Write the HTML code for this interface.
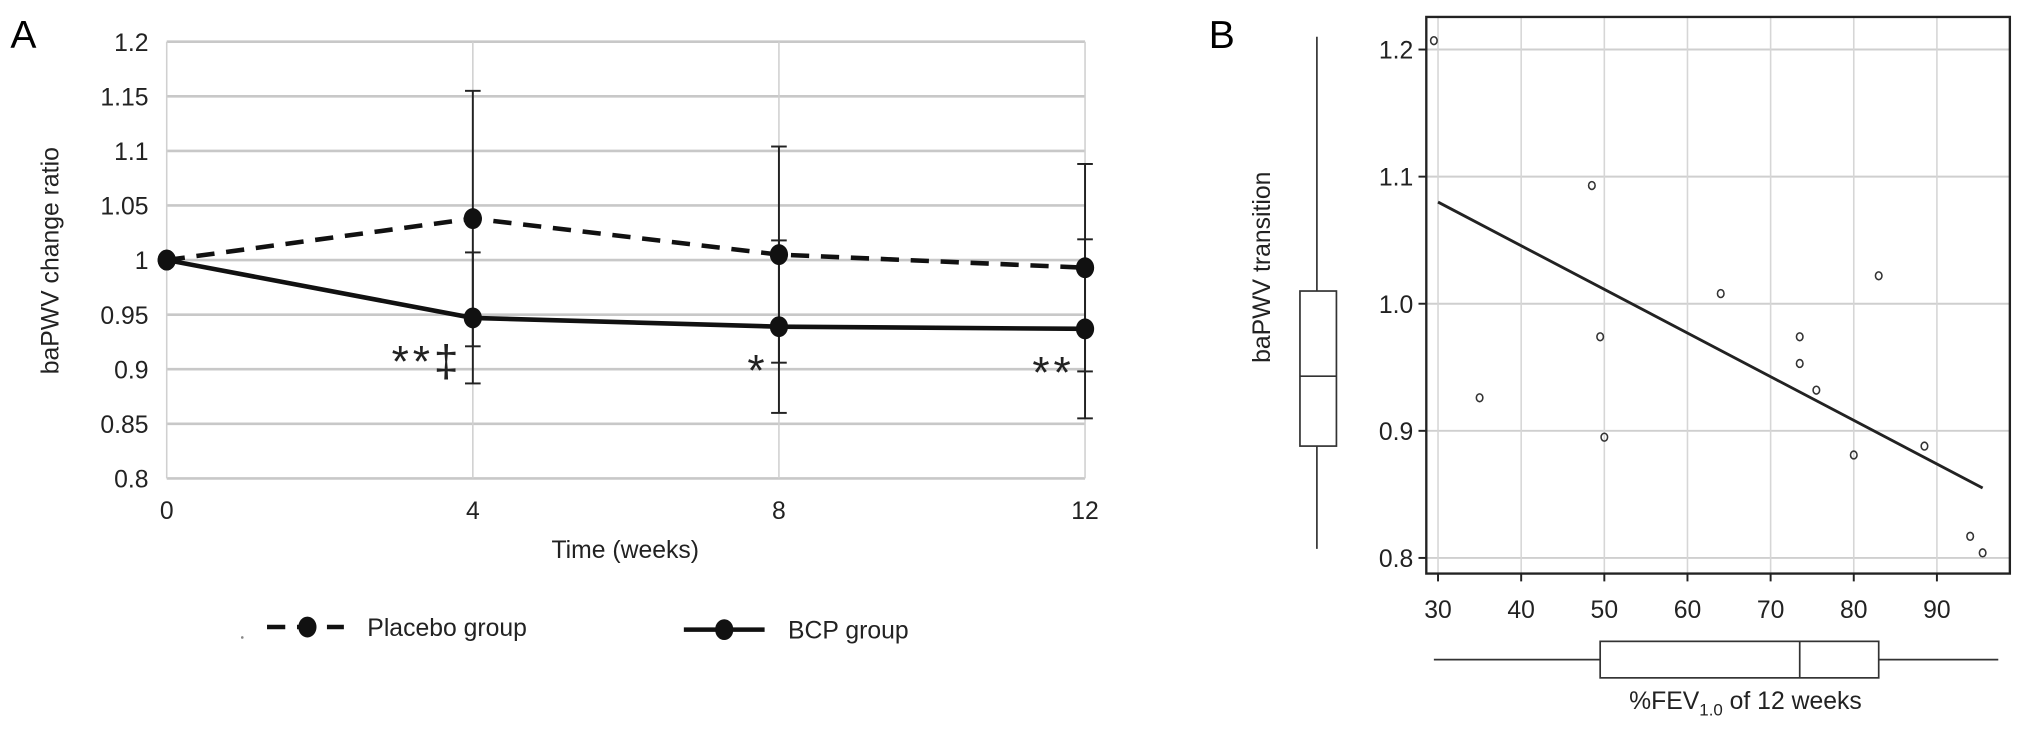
<!DOCTYPE html>
<html><head><meta charset="utf-8"><style>
html,body{margin:0;padding:0;background:#fff;}
svg{display:block;font-family:"Liberation Sans",sans-serif;}
</style></head><body>
<svg id="fig" width="2032" height="730" viewBox="0 0 1560 560" preserveAspectRatio="none" xmlns="http://www.w3.org/2000/svg">
<g id="A"></g>
<g id="B"></g>
</svg>
<script>
// Panel A data
const weeks = [0, 4, 8, 12];
const placeboMean = [1, 1.038, 1.005, 0.993];
const placeboSD = [0, 0.117, 0.099, 0.095];
const bcpMean = [1, 0.947, 0.939, 0.937];
const bcpSD = [0, 0.06, 0.079, 0.082];
const yTicksA = [0.8, 0.85, 0.9, 0.95, 1, 1.05, 1.1, 1.15, 1.2];
const xTicksA = [0, 4, 8, 12];
const sigLabels = ["", "**\u2021", "*", "**"];
// Panel B data
const fevX = [29.5, 35, 48.5, 49.5, 50, 64, 73.5, 73.5, 75.5, 80, 83, 88.5, 94, 95.5];
const bapwvY = [1.207, 0.926, 1.093, 0.974, 0.895, 1.008, 0.974, 0.953, 0.932, 0.881, 1.022, 0.888, 0.817, 0.804];
const fitLine = [[30, 1.080], [95.5, 0.855]];
const xTicksB = [30, 40, 50, 60, 70, 80, 90];
const yTicksB = [0.8, 0.9, 1.0, 1.1, 1.2];
const boxY = [0.804, 0.888, 0.943, 1.01, 1.207];
const boxX = [29.5, 49.5, 73.5, 83, 95.5];

const NS = "http://www.w3.org/2000/svg";
function mk(parent, tag, attrs, text) {
  const e = document.createElementNS(NS, tag);
  for (const k in attrs) e.setAttribute(k, attrs[k]);
  if (text !== undefined) e.textContent = text;
  parent.appendChild(e);
  return e;
}
const A = document.getElementById("A"), B = document.getElementById("B");

// ---- Panel A ----
const ax = v => 128 + (v - 0) / 12 * (833 - 128);
const ay = v => 367 - (v - 0.8) / 0.4 * (367 - 32);
let t = mk(A, "text", {x: 8, y: 37, "font-size": 30}, "A");


yTicksA.forEach(v => {
  const l = mk(A, "line", {x1: 128, x2: 833, y1: ay(v), y2: ay(v), stroke: "#c8c8c8", "stroke-width": 2});
  
  
  const tx = mk(A, "text", {x: 114, y: ay(v) + 7, "font-size": 19, "text-anchor": "end", fill: "#222"}, String(v));
  
  
});
xTicksA.forEach(v => {
  const l = mk(A, "line", {x1: ax(v), x2: ax(v), y1: 32, y2: 367, stroke: "#d0d0d0", "stroke-width": 1.2});
  
  
  const tx = mk(A, "text", {x: ax(v), y: 398, "font-size": 19, "text-anchor": "middle", fill: "#222"}, String(v));
  
  
});
t = mk(A, "text", {x: 480, y: 428, "font-size": 19, "text-anchor": "middle", fill: "#222"}, "Time (weeks)");


t = mk(A, "text", {x: 0, y: 0, "font-size": 19, "text-anchor": "middle", fill: "#222", transform: "translate(45,200) rotate(-90)"}, "baPWV change ratio");


// error bars
[[placeboMean, placeboSD], [bcpMean, bcpSD]].forEach(([m, s]) => {
  weeks.forEach((w, i) => {
    if (!s[i]) return;
    const x = ax(w);
    const l = mk(A, "line", {x1: x, x2: x, y1: ay(m[i] + s[i]), y2: ay(m[i] - s[i]), stroke: "#222", "stroke-width": 1.5});
    
    
    [m[i] + s[i], m[i] - s[i]].forEach(v => {
      const c = mk(A, "line", {x1: x - 6, x2: x + 6, y1: ay(v), y2: ay(v), stroke: "#222", "stroke-width": 1.5});
      
      
    });
  });
});
function series(m, dash, name) {
  const p = mk(A, "polyline", {points: weeks.map((w, i) => ax(w) + "," + ay(m[i])).join(" "), fill: "none", stroke: "#111", "stroke-width": 3.5, "stroke-dasharray": dash});
  
  
  weeks.forEach((w, i) => {
    const c = mk(A, "ellipse", {cx: ax(w), cy: ay(m[i]), rx: 7, ry: 8, fill: "#111"});
    
    
  });
}
series(placeboMean, "14 9", "placebo");
series(bcpMean, "none", "bcp");
weeks.forEach((w, i) => {
  if (!sigLabels[i]) return;
  const s = mk(A, "text", {x: ax(w) - 8, y: ay(bcpMean[i] - 0.037) + 14, "font-size": 34, "letter-spacing": 3, "text-anchor": "end", fill: "#222"}, sigLabels[i]);
  
  
});
// legend
const lg = mk(A, "g", {});


mk(lg, "circle", {cx: 186, cy: 489, r: 1, fill: "#888"});
mk(lg, "line", {x1: 205, x2: 264, y1: 481, y2: 481, stroke: "#111", "stroke-width": 3.5, "stroke-dasharray": "14 9"});
mk(lg, "ellipse", {cx: 236, cy: 481, rx: 7, ry: 8, fill: "#111"});
t = mk(lg, "text", {x: 282, y: 488, "font-size": 19, fill: "#222"}, "Placebo group");


mk(lg, "line", {x1: 525, x2: 587, y1: 483, y2: 483, stroke: "#111", "stroke-width": 3.5});
mk(lg, "ellipse", {cx: 556, cy: 483, rx: 7, ry: 8, fill: "#111"});
t = mk(lg, "text", {x: 605, y: 490, "font-size": 19, fill: "#222"}, "BCP group");



// ---- Panel B ----
const bx = v => 1104 + (v - 30) / 60 * (1487 - 1104);
const by = v => 428 - (v - 0.8) / 0.4 * (428 - 38);
t = mk(B, "text", {x: 928, y: 37, "font-size": 30}, "B");


yTicksB.forEach(v => {
  const l = mk(B, "line", {x1: 1095, x2: 1543, y1: by(v), y2: by(v), stroke: "#cfcfcf", "stroke-width": 1.5});
  
  
  mk(B, "line", {x1: 1089, x2: 1095, y1: by(v), y2: by(v), stroke: "#222", "stroke-width": 1.5});
  const tx = mk(B, "text", {x: 1085, y: by(v) + 7, "font-size": 19, "text-anchor": "end", fill: "#222"}, v.toFixed(1));
  
  
});
xTicksB.forEach(v => {
  const l = mk(B, "line", {x1: bx(v), x2: bx(v), y1: 13, y2: 440, stroke: "#d6d6d6", "stroke-width": 1.2});
  
  
  mk(B, "line", {x1: bx(v), x2: bx(v), y1: 440, y2: 446, stroke: "#222", "stroke-width": 1.5});
  const tx = mk(B, "text", {x: bx(v), y: 474, "font-size": 19, "text-anchor": "middle", fill: "#222"}, String(v));
  
  
});
t = mk(B, "rect", {x: 1095, y: 13, width: 448, height: 427, fill: "none", stroke: "#222", "stroke-width": 1.8});


fevX.forEach((x, i) => {
  const c = mk(B, "ellipse", {cx: bx(x), cy: by(bapwvY[i]), rx: 2.5, ry: 3, fill: "none", stroke: "#333", "stroke-width": 1.2});
  
  
});
t = mk(B, "line", {x1: bx(fitLine[0][0]), y1: by(fitLine[0][1]), x2: bx(fitLine[1][0]), y2: by(fitLine[1][1]), stroke: "#222", "stroke-width": 2.2});


// left boxplot
const lb = mk(B, "g", {});


mk(lb, "line", {x1: 1011, x2: 1011, y1: by(boxY[4]) - 3, y2: by(boxY[0]) - 3, stroke: "#333", "stroke-width": 1.3});
mk(lb, "rect", {x: 998, y: by(boxY[3]), width: 28, height: by(boxY[1]) - by(boxY[3]), fill: "#fff", stroke: "#333", "stroke-width": 1.3});
mk(lb, "line", {x1: 998, x2: 1026, y1: by(boxY[2]), y2: by(boxY[2]), stroke: "#333", "stroke-width": 1.3});
// bottom boxplot
const bb = mk(B, "g", {});


mk(bb, "line", {x1: bx(boxX[0]), x2: bx(boxX[4]) + 12, y1: 506, y2: 506, stroke: "#333", "stroke-width": 1.3});
mk(bb, "rect", {x: bx(boxX[1]), y: 492, width: bx(boxX[3]) - bx(boxX[1]), height: 28, fill: "#fff", stroke: "#333", "stroke-width": 1.3});
mk(bb, "line", {x1: bx(boxX[2]), x2: bx(boxX[2]), y1: 492, y2: 520, stroke: "#333", "stroke-width": 1.3});
t = mk(B, "text", {x: 1340, y: 544, "font-size": 19, "text-anchor": "middle", fill: "#222"});


t.innerHTML = '%FEV<tspan font-size="13" dy="5">1.0</tspan><tspan dy="-5"> of 12 weeks</tspan>';
t = mk(B, "text", {x: 0, y: 0, "font-size": 19, "text-anchor": "middle", fill: "#222", transform: "translate(975,205) rotate(-90)"}, "baPWV transition");


</script>
</body></html>
